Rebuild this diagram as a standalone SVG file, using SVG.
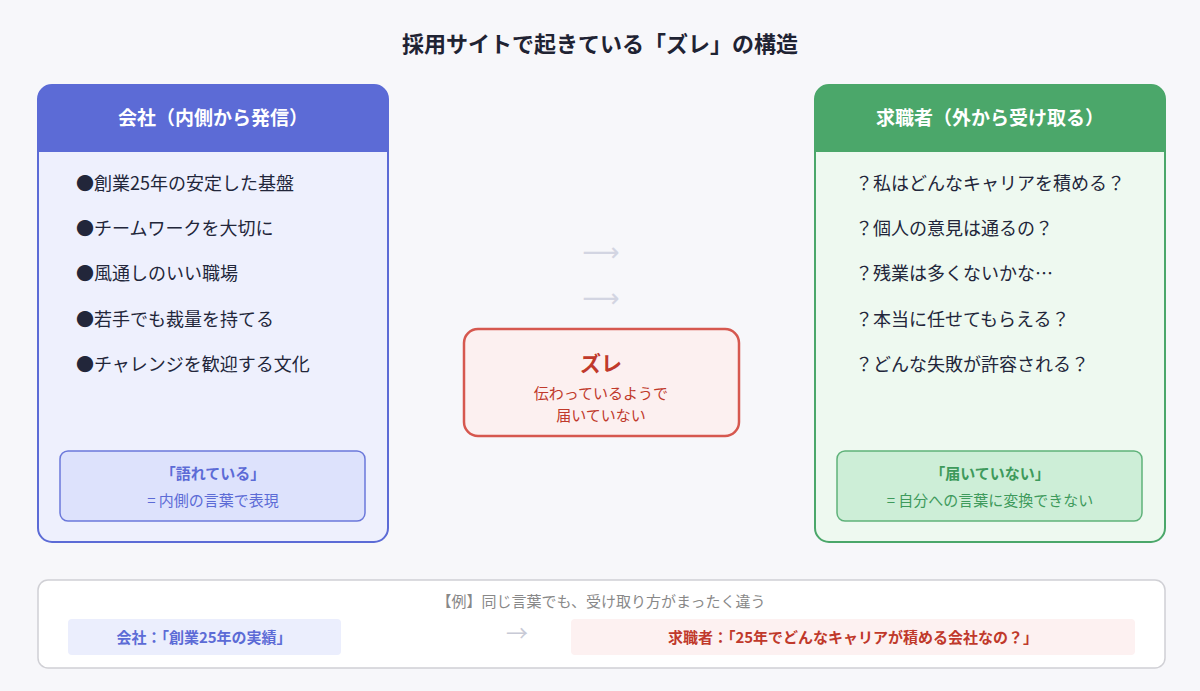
<svg xmlns="http://www.w3.org/2000/svg" width="1200" height="691" viewBox="0 0 1200 691">
<style>
text{font-family:"Noto Sans CJK JP","Noto Sans",sans-serif}
.t{font-size:22px;font-weight:700;fill:#1f2333}
.h{font-size:19px;font-weight:700;fill:#fff}
.li{font-size:18px;fill:#22263a}
.ar{font-size:26px;fill:#d3d5e2;font-family:"DejaVu Sans",sans-serif}
</style>
<rect width="1200" height="691" fill="#f7f7fa"/>
<text class="t" x="600" y="52" text-anchor="middle">採用サイトで起きている「ズレ」の構造</text>
<g id="company">
<rect x="38" y="85" width="350" height="457" rx="14" fill="#eef0fd" stroke="#5c6bd6" stroke-width="2"/>
<path d="M38 152V99a14 14 0 0 1 14-14h322a14 14 0 0 1 14 14v53z" fill="#5c6bd6"/>
<text class="h" x="213" y="125" text-anchor="middle">会社（内側から発信）</text>
<text class="li" x="76" y="190">●創業25年の安定した基盤</text>
<text class="li" x="76" y="235">●チームワークを大切に</text>
<text class="li" x="76" y="280">●風通しのいい職場</text>
<text class="li" x="76" y="326">●若手でも裁量を持てる</text>
<text class="li" x="76" y="371">●チャレンジを歓迎する文化</text>
<rect x="60" y="451" width="305" height="70" rx="8" fill="#dde2fc" stroke="#6b78da" stroke-width="1.5"/>
<text x="213" y="479" text-anchor="middle" font-size="15" font-weight="700" fill="#5c6bd6">「語れている」</text>
<text x="213" y="506" text-anchor="middle" font-size="15" fill="#5c6bd6">= 内側の言葉で表現</text>
</g>
<g id="seeker">
<rect x="815" y="85" width="350" height="457" rx="14" fill="#eef9f0" stroke="#4ba76a" stroke-width="2"/>
<path d="M815 152V99a14 14 0 0 1 14-14h322a14 14 0 0 1 14 14v53z" fill="#4ba76a"/>
<text class="h" x="990" y="125" text-anchor="middle">求職者（外から受け取る）</text>
<text class="li" x="855" y="190">？私はどんなキャリアを積める？</text>
<text class="li" x="855" y="235">？個人の意見は通るの？</text>
<text class="li" x="855" y="280">？残業は多くないかな…</text>
<text class="li" x="855" y="326">？本当に任せてもらえる？</text>
<text class="li" x="855" y="371">？どんな失敗が許容される？</text>
<rect x="837" y="451" width="305" height="70" rx="8" fill="#cdeed7" stroke="#5fb27a" stroke-width="1.5"/>
<text x="990" y="479" text-anchor="middle" font-size="15" font-weight="700" fill="#3e9a5c">「届いていない」</text>
<text x="990" y="506" text-anchor="middle" font-size="15" fill="#3e9a5c">= 自分への言葉に変換できない</text>
</g>
<g id="gap">
<rect x="464" y="329" width="275" height="107" rx="14" fill="#fcf0f0" stroke="#d6584f" stroke-width="2.5"/>
<text x="601" y="371" text-anchor="middle" font-size="21" font-weight="700" fill="#c0392b">ズレ</text>
<text x="601" y="399" text-anchor="middle" font-size="15" fill="#c0392b">伝わっているようで</text>
<text x="601" y="421" text-anchor="middle" font-size="15" fill="#c0392b">届いていない</text>
</g>
<g id="example">
<rect x="38" y="580" width="1127" height="88" rx="10" fill="#fff" stroke="#d0d0d5" stroke-width="1.5"/>
<text x="601" y="607" text-anchor="middle" font-size="15" fill="#888">【例】同じ言葉でも、受け取り方がまったく違う</text>
<rect x="68" y="619" width="273" height="36" rx="4" fill="#ebeefd"/>
<text x="204" y="643" text-anchor="middle" font-size="15" font-weight="700" fill="#5c6bd6">会社：「創業25年の実績」</text>
<rect x="571" y="619" width="564" height="36" rx="4" fill="#fdf1f1"/>
<text x="853" y="643" text-anchor="middle" font-size="15" font-weight="700" fill="#c0392b">求職者：「25年でどんなキャリアが積める会社なの？」</text>
</g>
<g id="connectors">
<text class="ar" x="601" y="261" text-anchor="middle">⟶</text>
<text class="ar" x="601" y="307" text-anchor="middle">⟶</text>
<text x="517" y="641" text-anchor="middle" font-size="22" fill="#c8cad6" font-family="DejaVu Sans,sans-serif">→</text>
</g>
</svg>
